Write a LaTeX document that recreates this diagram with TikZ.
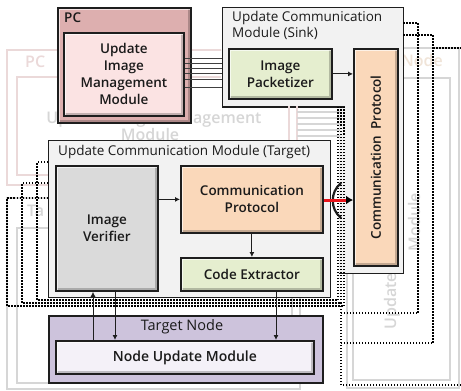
\documentclass[tikz,border=0pt]{standalone}
\usepackage{fontspec}
\setmainfont{Open Sans}[BoldFont={Open Sans Semibold}]
\usetikzlibrary{arrows.meta}

\definecolor{edge}{HTML}{1E1E1E}
\definecolor{txt}{HTML}{1A1A1A}
\definecolor{pcouter}{HTML}{DDAFAF}
\definecolor{pcinner}{HTML}{FBE3E3}
\definecolor{panel}{HTML}{F2F2F2}
\definecolor{packfill}{HTML}{E5EECF}
\definecolor{protofill}{HTML}{FAD8BA}
\definecolor{verfill}{HTML}{DADADA}
\definecolor{nodefill}{HTML}{CDC3DC}
\definecolor{updfill}{HTML}{F4F1F8}
\definecolor{ghost}{HTML}{D6D6D6}
\definecolor{ghostpink}{HTML}{EBD9D9}
\definecolor{ghostpeach}{HTML}{F0E4D8}
\definecolor{wire}{HTML}{E8141B}

\begin{document}
\begin{tikzpicture}[x=1pt,y=-1pt,
  bevel/.style={path picture={
    \draw[line width=5pt, black, opacity=0.22]
      (path picture bounding box.south west) -- (path picture bounding box.south east)
      -- (path picture bounding box.north east);
    \draw[line width=5pt, white, opacity=0.65]
      (path picture bounding box.south west) -- (path picture bounding box.north west)
      -- (path picture bounding box.north east);}},
  panelbox/.style={draw=edge, line width=1.3pt, inner sep=0pt, anchor=north west},
  modbox/.style={draw=edge, line width=1.8pt, inner sep=0pt, anchor=north west,
    align=center, text=txt, font=\bfseries\fontsize{13.5}{17}\selectfont, bevel},
  ttl/.style={anchor=base west, inner sep=0pt, text=txt, font=\fontsize{13.5}{16}\selectfont},
  ghostbox/.style={draw=ghost, line width=2.2pt},
  ghosttext/.style={text=ghost, inner sep=0pt, align=center,
    font=\bfseries\fontsize{16}{21}\selectfont},
  dots/.style={draw=black, line width=1.5pt, dash pattern=on 1.5pt off 1.5pt},
  link/.style={draw=edge, line width=0.9pt, -{Latex[length=5pt,width=5pt]}},
  bus/.style={draw=edge!85, line width=1pt},
]
\fill[white] (0,0) rectangle (461,391);
\useasboundingbox (0,0) rectangle (461,391);

% faded copy of a further node on the right
\draw[ghostbox] (347,48) rectangle (459,388);
\draw[ghostbox] (353,78) rectangle (450,380);
\node[ghosttext, text=ghostpeach, anchor=base east] (gnode) at (443,66) {Node};
\node[ghosttext, rotate=90, font=\bfseries\fontsize{16}{24}\selectfont] (gmod) at (402,222)
  {Update Image Management\\Module};

% sink side
\node[panelbox, fill=panel, minimum width=181pt, minimum height=266pt] (sink) at (222,7) {};
\node[ttl] (sinkt1) at (232,21.5) {Update Communication};
\node[ttl] (sinkt2) at (232,37.5) {Module (Sink)};
\node[modbox, fill=packfill, minimum width=103pt, minimum height=50pt] (pack) at (228,48)
  {Image\\Packetizer};
\node[modbox, fill=protofill, minimum width=44pt, minimum height=217pt] (sproto) at (353,48) {};
\node[rotate=90, text=txt, inner sep=0pt, font=\bfseries\fontsize{13.5}{15}\selectfont] (sprotot)
  at (sproto.center) {Communication\hspace{6pt}Protocol};

% backplane of the stacked target modules
\fill[white] (214,107.6) rectangle (339,302);
\draw[edge, line width=1.3pt] (222,107) -- (345,107);

% faded copies on the left
\begin{scope}
  \clip (0,0) -- (221,0) -- (221,106) -- (346,106) -- (346,391) -- (0,391) -- cycle;
  \draw[ghostbox, draw=ghostpink] (7,50) rectangle (297,185);
  \draw[ghostbox, draw=ghostpink] (17,77) rectangle (289,175);
  \node[ghosttext, text=ghostpink, anchor=base west] (gpc) at (25,67) {PC};
  \node[ghosttext] (gium1) at (154,119) {Update Image Management};
  \node[ghosttext] (gium2) at (150,134) {Module};
  \foreach \y in {112,118,124,130,136}
    \draw[ghost, line width=1.2pt] (297,\y) -- (340,\y);
\end{scope}
\draw[ghostbox] (7,198) rectangle (300,389);
\draw[ghostbox] (17,228) rectangle (292,383);
\node[ghosttext, anchor=base west] (gtn) at (27,216) {Ta};

% dotted outlines of the other targets
\draw[dots] (48,162) -- (37,162) -- (37,300) -- (338,300) -- (338,107);
\draw[dots] (48,183) -- (22,183) -- (22,303) -- (341,303) -- (341,107);
\draw[dots] (48,198) -- (7,198) -- (7,306) -- (344,306) -- (344,107);
\draw[dots] (403,23) -- (418,23) -- (418,313) -- (341,313);
\draw[dots] (403,35) -- (433,35) -- (433,343) -- (341,343);
\draw[dots] (433,48) -- (461,48);
\draw[dots] (461,385) -- (341,385) -- (341,303);

% PC
\node[panelbox, fill=pcouter, line width=1.5pt, minimum width=133pt, minimum height=115pt, bevel]
  (pc) at (57,7) {};
\node[ttl, font=\bfseries\fontsize{13.5}{16}\selectfont] (pct) at (64,22) {PC};
\node[modbox, fill=pcinner, minimum width=120pt, minimum height=83pt] (ium) at (63,32)
  {Update\\Image\\Management\\Module};

\foreach \y in {58,63,68,73,79,87}
  \draw[bus] (ium.east |- 0,\y) -- (sink.west |- 0,\y);
\draw[link] (pack.east) -- (pack.east -| sproto.west);

% target communication module
\node[panelbox, fill=panel, minimum width=282pt, minimum height=157pt] (tmod) at (48,140) {};
\node[ttl] (tmodt) at (58,155) {Update Communication Module (Target)};
\node[modbox, fill=verfill, minimum width=102pt, minimum height=125pt] (ver) at (55,165)
  {Image\\Verifier};
\node[modbox, fill=protofill, minimum width=142pt, minimum height=67pt] (tproto) at (180,165)
  {Communication\\Protocol};
\node[modbox, fill=packfill, minimum width=142pt, minimum height=33pt] (cext) at (180,257)
  {Code Extractor};
\draw[link] (ver.east |- tproto.west) -- (tproto.west);
\draw[link] (tproto.south) -- (cext.north);

% target node
\node[panelbox, fill=nodefill, line width=1.5pt, minimum width=274pt, minimum height=67pt]
  (tnode) at (48,315) {};
\node[ttl, anchor=base, font=\fontsize{14.5}{16}\selectfont] (tnodet) at (182,330) {Target Node};
\node[modbox, fill=updfill, minimum width=258pt, minimum height=33pt,
  font=\bfseries\fontsize{14}{16}\selectfont] (num) at (55,340) {Node Update Module};

\draw[link] (num.north -| 93,0) -- (ver.south -| 93,0);
\draw[link] (ver.south -| 115,0) -- (num.north -| 115,0);
\draw[link] (cext.south -| 276,0) -- (num.north -| 276,0);

% wireless link between the two protocol stacks
\draw[edge, line width=2.2pt] (341,183) .. controls (330,192) and (330,209) .. (341,218);
\draw[wire, line width=3pt, -{Latex[length=7pt,width=9pt,color=black]}]
  (tproto.east |- 0,200) -- (sproto.west |- 0,200);
\end{tikzpicture}
\end{document}
